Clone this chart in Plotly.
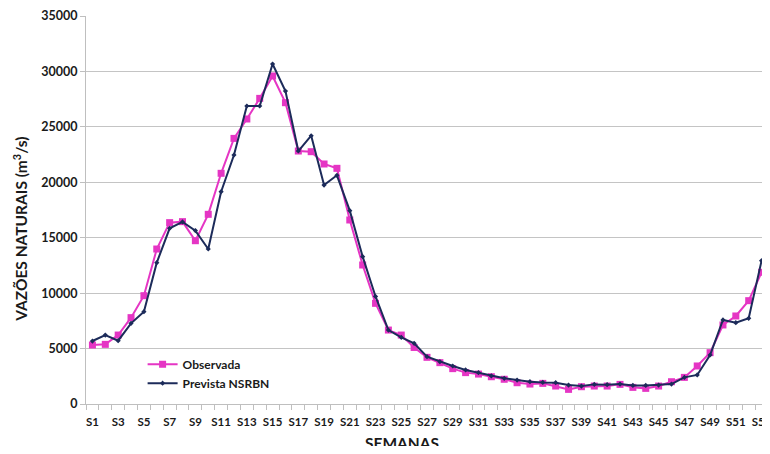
import plotly.graph_objects as go

weeks = [f"S{i}" for i in range(1, 54)]

observada = [5320, 5380, 6220, 7790, 9770, 13980, 16360, 16450, 14730, 17110,
             20810, 23960, 25710, 27570, 29590, 27180, 22820, 22760, 21650, 21260,
             16600, 12540, 9080, 6670, 6220, 5100, 4210, 3730, 3190, 2830,
             2700, 2460, 2230, 1920, 1800, 1860, 1620, 1320, 1560, 1620,
             1620, 1770, 1500, 1410, 1620, 2010, 2400, 3430, 4630, 7130,
             7940, 9320, 11880]

prevista = [5680, 6220, 5710, 7280, 8330, 12750, 15850, 16420, 15640, 13980,
            19150, 22460, 26880, 26880, 30670, 28230, 22820, 24200, 19750, 20630,
            17440, 13290, 9700, 6670, 6010, 5470, 4270, 3820, 3430, 3070,
            2830, 2530, 2320, 2160, 2010, 1950, 1920, 1710, 1620, 1770,
            1740, 1800, 1680, 1680, 1710, 1800, 2400, 2620, 4420, 7580,
            7340, 7730, 12930]

y_ticks = [0, 5000, 10000, 15000, 20000, 25000, 30000, 35000]

xpos = list(range(1, len(weeks) + 1))
label_vals = xpos[::2]
label_text = weeks[::2]

FONT = "Lato"
TXT = "#1a1a1a"

tick_text = [f"<b>{t}</b>" for t in label_text]

fig = go.Figure()
fig.add_trace(go.Scatter(
    x=xpos, y=observada, name="<b>Observada</b>", mode="lines+markers",
    line=dict(color="#E535C4", width=2),
    marker=dict(symbol="square", size=7, color="#E535C4"),
))
fig.add_trace(go.Scatter(
    x=xpos, y=prevista, name="<b>Prevista NSRBN</b>", mode="lines+markers",
    line=dict(color="#1C2B5A", width=2),
    marker=dict(symbol="diamond", size=4, color="#1C2B5A"),
))

# page body has an 8px margin: size the figure so no scrollbar appears
# and the plot area lands where the reference has it
fig.update_layout(
    width=762, height=438,
    margin=dict(l=78, r=2, t=8, b=42, autoexpand=False),
    paper_bgcolor="white", plot_bgcolor="white",
    font=dict(family=FONT, size=12, color=TXT),
    showlegend=True,
    legend=dict(x=0.083, y=0.14, xanchor="left", yanchor="top",
                bgcolor="rgba(255,255,255,0)", font=dict(size=12, family=FONT),
                itemwidth=30, tracegroupgap=2),
    xaxis=dict(
        range=[0.5, len(weeks) + 0.5],
        tickvals=label_vals, ticktext=tick_text, tickangle=0,
        ticks="", showgrid=False, ticklabeloverflow="allow",
        ticklabelstandoff=7,
        showline=True, linecolor="#bfbfbf", linewidth=1, mirror=False,
        minor=dict(tick0=0.5, dtick=1, ticks="outside", ticklen=5,
                   tickcolor="#bfbfbf", showgrid=False),
        tickfont=dict(size=11.5, family=FONT),
        zeroline=False,
    ),
    yaxis=dict(
        range=[0, 35000], tickvals=y_ticks,
        ticktext=[f"<b>{v}</b>" for v in y_ticks],
        showgrid=True, gridcolor="#c4c4c4", gridwidth=1,
        showline=True, linecolor="#bfbfbf", linewidth=1,
        ticks="outside", ticklen=5, tickcolor="#bfbfbf",
        tickfont=dict(size=12.5, family=FONT),
        zeroline=False,
    ),
    annotations=[
        dict(text="<b>SEMANAS</b>", xref="paper", yref="paper",
             x=0.463, y=-0.1, xanchor="center", yanchor="middle",
             showarrow=False, font=dict(size=15.5, family=FONT, color=TXT)),
        dict(text="<b>VAZÕES NATURAIS (m<sup>3</sup>/s)</b>", xref="paper", yref="paper",
             x=-0.097, y=0.451, xanchor="center", yanchor="middle", textangle=-90,
             showarrow=False, font=dict(size=15.5, family=FONT, color=TXT)),
    ],
)

fig.write_html("out.html")
